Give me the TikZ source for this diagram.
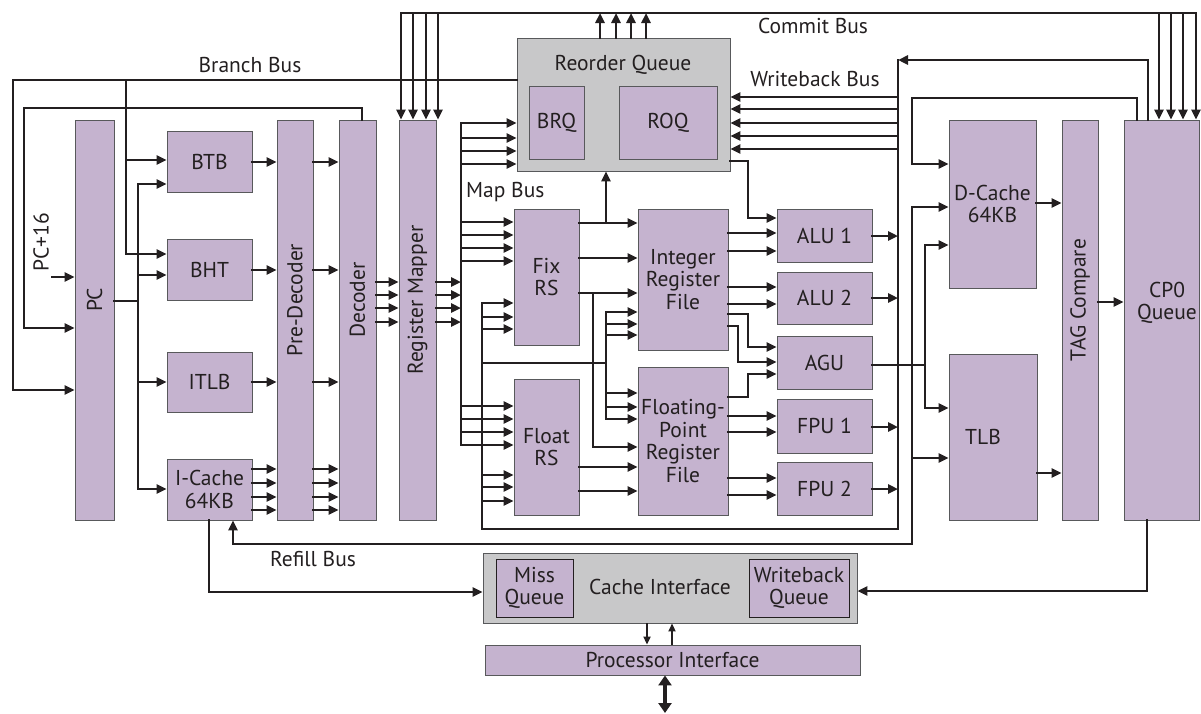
\documentclass[tikz,border=0pt]{standalone}
\usepackage{fontspec}
\setmainfont{PT Sans}
\usetikzlibrary{arrows.meta}
\definecolor{lil}{HTML}{C5B3CF}
\definecolor{gry}{HTML}{C8C8C9}
\definecolor{ink}{HTML}{231F20}
\definecolor{edge}{HTML}{58595B}
\begin{document}
\begin{tikzpicture}[x=1pt,y=-1pt,
  >={Triangle[length=10pt,width=9pt]},
  txt/.style={text=ink, align=center, inner sep=0pt, font=\fontsize{21.5}{22.5}\selectfont},
  blk/.style={txt, draw=edge, line width=0.9pt, fill=lil},
  gbox/.style={txt, draw=edge, line width=0.9pt, fill=gry},
  qbox/.style={txt, draw=ink, line width=0.9pt, fill=lil},
  lbl/.style={txt},
  w/.style={draw=ink, line width=2.5pt, line cap=rect},
  tw/.style={draw=ink, line width=2pt, >={Triangle[length=8pt,width=7pt]}}
]
\useasboundingbox (0,0) rectangle (1201,713);
% ---------- blocks ----------
\node[blk, minimum width=39pt, minimum height=400pt] (pc) at (94.5,320) {};
\node[blk, minimum width=85pt, minimum height=61pt] (btb) at (209.5,161.5) {BTB};
\node[blk, minimum width=85pt, minimum height=61pt] (bht) at (209.5,269.5) {BHT};
\node[blk, minimum width=85pt, minimum height=60pt] (itlb) at (209.5,382) {ITLB};
\node[blk, minimum width=85pt, minimum height=61pt] (icache) at (209.5,489.5) {I-Cache\\64KB};
\node[blk, minimum width=36pt, minimum height=400pt] (predec) at (295,320) {};
\node[blk, minimum width=37pt, minimum height=400pt] (dec) at (357.5,320) {};
\node[blk, minimum width=37pt, minimum height=400pt] (regmap) at (417.5,320) {};
\node[gbox, minimum width=213pt, minimum height=133pt] (rq) at (623.5,104.5) {};
\node[blk, minimum width=55pt, minimum height=73pt] (brq) at (556.5,122.5) {BRQ};
\node[blk, minimum width=98pt, minimum height=73pt] (roq) at (668,122.5) {ROQ};
\node[blk, minimum width=65pt, minimum height=136pt] (fixrs) at (546.5,277) {Fix\\RS};
\node[blk, minimum width=65pt, minimum height=136pt] (floatrs) at (546.5,447) {Float\\RS};
\node[blk, minimum width=90pt, minimum height=141pt] (intrf) at (683,279.5) {Integer\\Register\\File};
\node[blk, minimum width=90pt, minimum height=148pt] (fprf) at (683,441) {Floating-\\Point\\Register\\File};
\node[blk, minimum width=95pt, minimum height=53pt] (alu1) at (824.5,235.5) {ALU 1};
\node[blk, minimum width=95pt, minimum height=52pt] (alu2) at (824.5,298) {ALU 2};
\node[blk, minimum width=95pt, minimum height=53pt] (agu) at (824.5,362.5) {AGU};
\node[blk, minimum width=95pt, minimum height=54pt] (fpu1) at (824.5,426) {FPU 1};
\node[blk, minimum width=95pt, minimum height=53pt] (fpu2) at (824.5,488.5) {FPU 2};
\node[blk, minimum width=87pt, minimum height=168pt] (dcache) at (992.5,204) {D-Cache\\64KB};
\node[blk, minimum width=88pt, minimum height=166pt] (tlb) at (993,437) {};
\node[blk, minimum width=36pt, minimum height=400pt] (tag) at (1080,320) {};
\node[blk, minimum width=75pt, minimum height=400pt] (cp0) at (1161.5,320) {};
\node[gbox, minimum width=374pt, minimum height=70pt] (ci) at (670,588) {};
\node[qbox, minimum width=77pt, minimum height=58pt] (missq) at (534.5,588) {Miss\\Queue};
\node[qbox, minimum width=100pt, minimum height=58pt] (wbq) at (799,588) {Writeback\\Queue};
\node[blk, minimum width=375pt, minimum height=30pt] (pi) at (672.5,660) {Processor Interface};
% ---------- labels ----------
\node[lbl] at (94.5,300) {\rotatebox{90}{PC}};
\node[lbl] at (295,300) {\rotatebox{90}{Pre-Decoder}};
\node[lbl] at (357.5,300) {\rotatebox{90}{Decoder}};
\node[lbl] at (417.5,300) {\rotatebox{90}{Register Mapper}};
\node[lbl] at (1080,300) {\rotatebox{90}{TAG Compare}};
\node[lbl] at (41,242) {\rotatebox{90}{PC+16}};
\node[lbl] at (983,437) {TLB};
\node[lbl] at (1167,303) {CP0\\Queue};
\node[lbl] at (623,65) {Reorder Queue};
\node[lbl] at (660,587) {Cache Interface};
\node[lbl] at (250,65) {Branch Bus};
\node[lbl] at (813,26) {Commit Bus};
\node[lbl] at (815,79) {Writeback Bus};
\node[lbl, anchor=west] at (466,192) {Map Bus};
\node[lbl] at (313,559) {Refill Bus};
% ---------- coordinates ----------
\coordinate (pc16) at (52,277);
\coordinate (mb) at (461,123);
\coordinate (wb) at (898,60);
\coordinate (ext) at (665,713);
% ---------- branch bus ----------
\draw[w,->] (rq.west |- 0,80) -- (13,80) -- (13,390) -- (pc.west |- 0,390);
\draw[w,->] (126,80) -- (126,254) -- (bht.west |- 0,254);
\draw[w,->] (126,160) -- (btb.west |- 0,160);
\draw[w,->] (dec.north -| 362,0) -- (362,108) -- (24,108) -- (24,328) -- (pc.west |- 0,328);
\draw[w,->] (pc16) -- (pc.west |- pc16);
% ---------- PC fan-out ----------
\draw[w] (pc.east |- 0,301) -- (138,301);
\draw[w,->] (138,301) -- (138,184) -- (btb.west |- 0,184);
\draw[w,->] (138,184) -- (138,489) -- (icache.west |- 0,489);
\draw[w,->] (138,275) -- (bht.west |- 0,275);
\draw[w,->] (138,382) -- (itlb.west |- 0,382);
% ---------- front-end pipeline ----------
\foreach \n/\y in {btb/162, bht/270, itlb/382}
  \draw[w,->] (\n.east |- 0,\y) -- (predec.west |- 0,\y);
\foreach \y in {469,483,497,510}
  \draw[w,->] (icache.east |- 0,\y) -- (predec.west |- 0,\y);
\foreach \y in {162,270,382,469,483,497,510}
  \draw[w,->] (predec.east |- 0,\y) -- (dec.west |- 0,\y);
\foreach \y in {282,295,308,322}
  \draw[w,->] (dec.east |- 0,\y) -- (regmap.west |- 0,\y);
\foreach \y in {282,295,308,322}
  \draw[w,->] (regmap.east |- 0,\y) -- (mb |- 0,\y);
% ---------- map bus ----------
\draw[w] (mb) -- (mb |- 0,445);
\foreach \y in {123,138,151,164}
  \draw[w,->] (mb |- 0,\y) -- (rq.west |- 0,\y);
\foreach \y in {222,235,248,261}
  \draw[w,->] (mb |- 0,\y) -- (fixrs.west |- 0,\y);
\foreach \y in {406,419,432,445}
  \draw[w,->] (mb |- 0,\y) -- (floatrs.west |- 0,\y);
% ---------- commit bus ----------
\draw[w,<->] (regmap.north -| 401,0) -- (401,13) -- (1196,13) -- (cp0.north -| 1196,0);
\foreach \x in {413,426,438}
  \draw[w,->] (\x,13) -- (regmap.north -| \x,0);
\foreach \x in {1159,1171,1183}
  \draw[w,->] (\x,13) -- (cp0.north -| \x,0);
\foreach \x in {600,616,631,646}
  \draw[w,->] (rq.north -| \x,0) -- (\x,13);
% ---------- writeback bus ----------
\draw[w,->] (cp0.north -| 1148,0) -- (1148,60) -- (wb);
\draw[w] (wb) -- (898,529) -- (482,529) -- (482,303);
\foreach \y in {97,109,123,136,149}
  \draw[w,->] (wb |- 0,\y) -- (rq.east |- 0,\y);
\foreach \y in {303,317,329}
  \draw[w,->] (482,\y) -- (fixrs.west |- 0,\y);
\foreach \y in {475,487,501}
  \draw[w,->] (482,\y) -- (floatrs.west |- 0,\y);
\draw[w] (482,363) -- (606,363);
\draw[w] (606,312) -- (606,419);
\foreach \y in {312,324,335}
  \draw[w,->] (606,\y) -- (intrf.west |- 0,\y);
\foreach \y in {393,407,419}
  \draw[w,->] (606,\y) -- (fprf.west |- 0,\y);
% ---------- reservation stations ----------
\foreach \y in {223,258,293}
  \draw[w,->] (fixrs.east |- 0,\y) -- (intrf.west |- 0,\y);
\draw[w,->] (593,293) -- (593,447) -- (fprf.west |- 0,447);
\draw[w,->] (606,223) -- (rq.south -| 606,0);
\foreach \y in {467,491}
  \draw[w,->] (floatrs.east |- 0,\y) -- (fprf.west |- 0,\y);
% ---------- register files to units ----------
\foreach \y in {233,251}
  \draw[w,->] (intrf.east |- 0,\y) -- (alu1.west |- 0,\y);
\draw[w,->] (rq.east |- 0,161) -- (748,161) -- (748,218) -- (alu1.west |- 0,218);
\foreach \y in {287,304}
  \draw[w,->] (intrf.east |- 0,\y) -- (alu2.west |- 0,\y);
\draw[w,->] (intrf.east |- 0,314) -- (748,314) -- (748,347) -- (agu.west |- 0,347);
\draw[w,->] (intrf.east |- 0,326) -- (738,326) -- (738,362) -- (agu.west |- 0,362);
\draw[w,->] (fprf.east |- 0,397) -- (748,397) -- (748,374) -- (agu.west |- 0,374);
\foreach \y in {416,432}
  \draw[w,->] (fprf.east |- 0,\y) -- (fpu1.west |- 0,\y);
\foreach \y in {478,495}
  \draw[w,->] (fprf.east |- 0,\y) -- (fpu2.west |- 0,\y);
\foreach \n/\y in {alu1/236, alu2/298, fpu1/427, fpu2/489}
  \draw[w,->] (\n.east |- 0,\y) -- (wb |- 0,\y);
% ---------- memory side ----------
\draw[w] (agu.east |- 0,365) -- (925,365);
\draw[w,->] (925,365) -- (925,245) -- (dcache.west |- 0,245);
\draw[w,->] (925,365) -- (925,408) -- (tlb.west |- 0,408);
\draw[w,->] (cp0.north -| 1137,0) -- (1137,98) -- (912,98) -- (912,164) -- (dcache.west |- 0,164);
\draw[w,->] (912,207) -- (dcache.west |- 0,207);
\draw[w,->] (912,207) -- (912,544) -- (233,544) -- (icache.south -| 233,0);
\draw[w,->] (912,458) -- (tlb.west |- 0,458);
\draw[w,->] (dcache.east |- 0,203) -- (tag.west |- 0,203);
\draw[w,->] (tlb.east |- 0,473) -- (tag.west |- 0,473);
\draw[w,->] (tag.east |- 0,302) -- (cp0.west |- 0,302);
% ---------- cache interface ----------
\draw[w,->] (icache.south -| 209,0) -- (209,592) -- (ci.west |- 0,592);
\draw[w,->] (cp0.south -| 1147,0) -- (1147,591) -- (ci.east |- 0,591);
\draw[tw,->] (ci.south -| 647,0) -- (pi.north -| 647,0);
\draw[tw,->] (pi.north -| 672,0) -- (ci.south -| 672,0);
\draw[draw=ink, line width=4pt, {Triangle[length=10pt,width=13pt]}-{Triangle[length=10pt,width=13pt]}] (pi.south -| 665,0) -- (ext);
\end{tikzpicture}
\end{document}
